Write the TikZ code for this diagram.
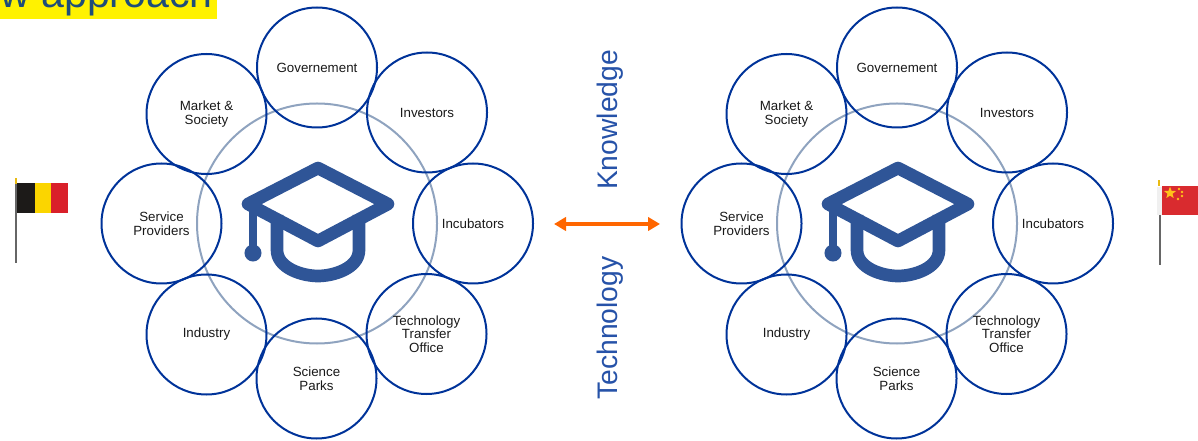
\documentclass[tikz,border=0pt]{standalone}
\usepackage{fontspec}
\setmainfont{Liberation Sans}
\usetikzlibrary{arrows.meta,shapes.geometric}
\definecolor{ringblue}{HTML}{003399}
\definecolor{hubgray}{HTML}{8FA3BF}
\definecolor{hatblue}{HTML}{2F5597}
\definecolor{titleblue}{HTML}{1F4E79}
\definecolor{swaporange}{HTML}{FF6600}
\definecolor{beblack}{HTML}{1C1A18}
\definecolor{beyellow}{HTML}{FBD500}
\definecolor{bered}{HTML}{D9202A}
\definecolor{cnred}{HTML}{D92B2F}
\definecolor{cngold}{HTML}{FFC21A}
\tikzset{
actor/.style={circle, draw=ringblue, line width=1.5pt, minimum size=90pt, inner sep=0pt, align=center, text=black!90, font=\fontsize{10}{10.2}\selectfont},
hub/.style={circle, draw=hubgray, line width=1.5pt, minimum size=180pt, inner sep=0pt},
topic/.style={rotate=90, text=ringblue!85!white, inner sep=0pt, font=\fontsize{21.2}{24}\selectfont},
pole/.style={draw=black!60, line width=1.5pt},
minor star/.style={circle, fill=cngold, inner sep=0pt, minimum size=2.2pt},
hatline/.style={draw=hatblue, line width=9.5pt, line join=round},
hat/.pic={
    \draw[hatline] (1,-55) -- (71,-19) -- (1,18) -- (-69,-19) -- cycle;
    \draw[hatline] (-40,-8) -- (-40,27) .. controls (-40,45) and (-15,53) .. (1,53) .. controls (17,53) and (42,45) .. (42,27) -- (42,-8);
    \draw[draw=hatblue, line width=6pt] (-64,-19) -- (-64,25);
    \fill[hatblue] (-64,30) circle[radius=6.4pt];
},
}

\begin{document}
\begin{tikzpicture}[x=0.75pt, y=-0.75pt]
    \useasboundingbox (0,0) rectangle (1198,441);

    \fill[yellow] (0,0) rectangle (217,19.5);
    \begin{scope}
        \clip (0,0) rectangle (1198,441);
        \node[anchor=base east, inner sep=0pt, text=titleblue, font=\fontsize{30.8}{34}\selectfont] (title) at (213,7.5) {w approach};
    \end{scope}

    \node[hub] (hubL) at (317,223.5) {};
    \node[actor] (govL) at (317,67.5) {Governement};
    \node[actor] (invL) at (427,112.5) {Investors};
    \node[actor] (incL) at (473,223.5) {Incubators};
    \node[actor] (ttoL) at (426.5,334) {Technology\\Transfer\\Office};
    \node[actor] (parkL) at (316.5,378.5) {Science\\Parks};
    \node[actor] (indL) at (206.5,334.5) {Industry};
    \node[actor] (servL) at (161.5,223.5) {Service\\Providers};
    \node[actor] (markL) at (206.5,114) {Market \&\\Society};
    \pic at (317,223) {hat};

    \node[hub] (hubR) at (897,223.5) {};
    \node[actor] (govR) at (897,67.5) {Governement};
    \node[actor] (invR) at (1007,112.5) {Investors};
    \node[actor] (incR) at (1053,223.5) {Incubators};
    \node[actor] (ttoR) at (1006.5,334) {Technology\\Transfer\\Office};
    \node[actor] (parkR) at (896.5,378.5) {Science\\Parks};
    \node[actor] (indR) at (786.5,334.5) {Industry};
    \node[actor] (servR) at (741.5,223.5) {Service\\Providers};
    \node[actor] (markR) at (786.5,114) {Market \&\\Society};
    \pic at (897,223) {hat};

    \node[topic] (know) at (610,120) {Knowledge};
    \node[topic] (tech) at (610,328) {Technology};
    \coordinate (swapL) at (554,224);
    \coordinate (swapR) at (660,224);
    \draw[{Triangle[length=9pt,width=10pt]}-{Triangle[length=9pt,width=10pt]}, draw=swaporange, line width=3pt] (swapL) -- (swapR);

    \draw[pole] (16,183) -- (16,263);
    \fill[beyellow!70!brown] (15,178) rectangle (17,184);
    \fill[beblack] (17,183) rectangle (35,213);
    \fill[beyellow] (35,183) rectangle (51,213);
    \fill[bered] (51,183) rectangle (68,213);

    \draw[pole] (1160,215) -- (1160,265);
    \fill[black!6] (1157,187) rectangle (1162,215);
    \fill[beyellow!70!brown] (1158,180) rectangle (1160,186);
    \fill[cnred] (1162,186) rectangle (1198,215);
    \node[star, star points=5, star point ratio=2.4, fill=cngold, inner sep=0pt, minimum size=9.5pt] (bigstar) at (1170,193) {};
    \node[minor star] (star1) at (1179,189) {};
    \node[minor star] (star2) at (1182,192) {};
    \node[minor star] (star3) at (1182,196) {};
    \node[minor star] (star4) at (1178,199) {};
\end{tikzpicture}
\end{document}
